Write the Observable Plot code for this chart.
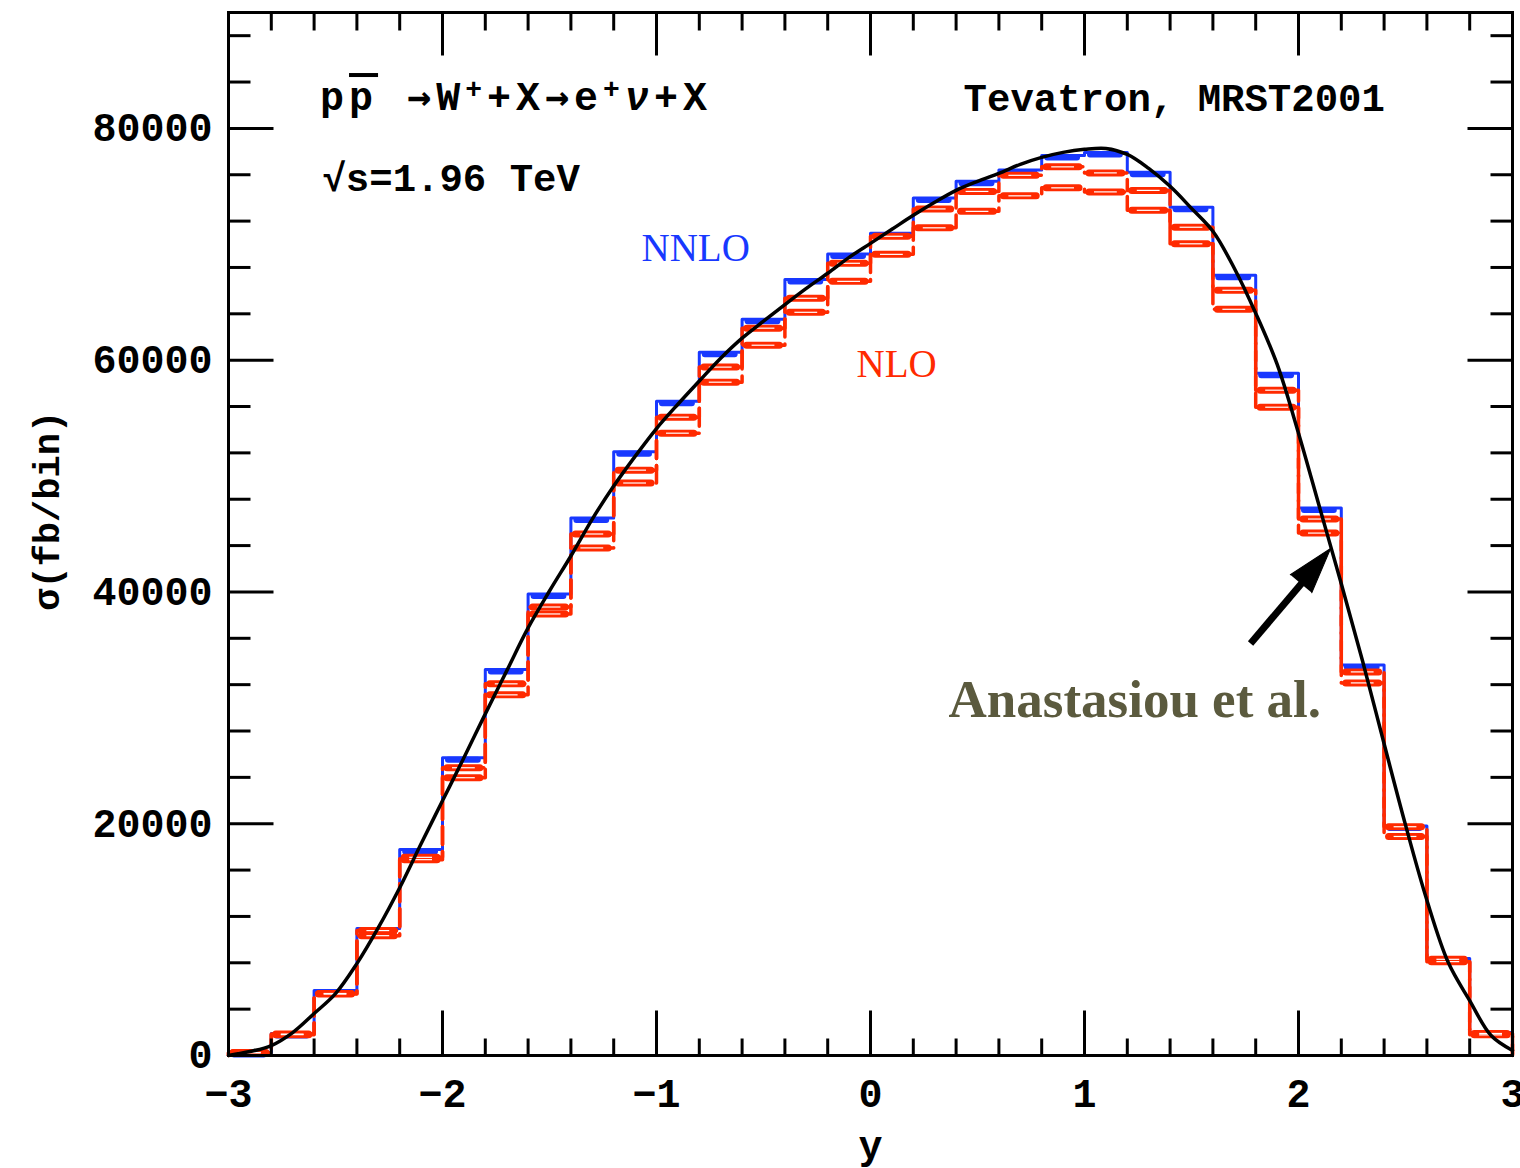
<!DOCTYPE html>
<html><head><meta charset="utf-8">
<script src="https://cdn.jsdelivr.net/npm/d3@7"></script>
<script src="https://cdn.jsdelivr.net/npm/@observablehq/plot@0.6"></script>
<style>body{margin:0;background:#fff} #chart svg{display:block;background:#fff}</style>
</head><body><div id="chart"></div>
<script>
// ---- data ----
const binLo = [-3.0,-2.8,-2.6,-2.4,-2.2,-2.0,-1.8,-1.6,-1.4,-1.2,-1.0,-0.8,-0.6,-0.4,-0.2,0.0,0.2,0.4,0.6,0.8,1.0,1.2,1.4,1.6,1.8,2.0,2.2,2.4,2.6,2.8];
const nnlo    = [250,1900,5600,10950,17780,25700,33300,39820,46380,52100,56460,60690,63530,66950,69170,70950,74000,75430,76420,77670,77930,76210,73190,67320,58880,47240,33700,19800,8360,1980];
const nloHigh = [260,1850,5350,10780,17100,24830,32070,38700,45000,50510,55080,59400,62760,65340,68360,70690,73050,74560,75950,76680,76160,74650,71470,66030,57410,46290,33100,19740,8300,1900];
const nloLow  = [230,1800,5300,10340,16900,23970,31120,38100,43800,49400,53700,58100,61290,64130,66800,69130,71420,72840,74180,74870,74520,72930,70040,64390,55940,45080,32150,18900,8100,1780];
const curveX = [-3.0,-2.9,-2.8,-2.7,-2.6,-2.5,-2.4,-2.3,-2.2,-2.1,-2.0,-1.9,-1.8,-1.7,-1.6,-1.5,-1.4,-1.3,-1.2,-1.1,-1.0,-0.9,-0.8,-0.7,-0.6,-0.5,-0.4,-0.3,-0.2,-0.1,0.0,0.1,0.2,0.3,0.4,0.5,0.6,0.7,0.8,0.9,1.0,1.1,1.2,1.3,1.4,1.5,1.6,1.7,1.8,1.9,2.0,2.1,2.2,2.3,2.4,2.5,2.6,2.7,2.8,2.9,3.0];
const curveV = [0,340,860,1980,3620,5340,7930,11030,14480,18270,21980,25690,29480,33190,36900,40080,43100,46290,49140,51700,54100,56200,58200,60170,61900,63360,64800,66200,67500,68870,70080,71290,72500,73620,74650,75430,76120,76900,77500,77930,78190,78270,77760,76550,75000,73100,71120,67930,64050,59650,53700,47200,40700,34000,26900,19900,13400,8020,4740,1720,430];
const xTickLabels = [-3,-2,-1,0,1,2,3];
const xMinorTicks = [-2.8,-2.6,-2.4,-2.2,-1.8,-1.6,-1.4,-1.2,-0.8,-0.6,-0.4,-0.2,0.2,0.4,0.6,0.8,1.2,1.4,1.6,1.8,2.2,2.4,2.6,2.8];
const yTickLabels = [0,20000,40000,60000,80000];
const yMinorTicks = [4000,8000,12000,16000,24000,28000,32000,36000,44000,48000,52000,56000,64000,68000,72000,76000,84000,88000];

// ---- styling ----
const BLUE = "#1838ff", RED = "#ff2a00", OLIVE = "#5b5a3e";
const mono = "Liberation Mono, DejaVu Sans Mono, monospace";
const serif = "Liberation Serif, DejaVu Serif, serif";

const bins = binLo.map((x0, i) => ({x0, x1: +(x0 + 0.2).toFixed(1), nnlo: nnlo[i], hi: nloHigh[i], lo: nloLow[i]}));
const steps = key => [{x: -3, v: 0}, ...bins.map(b => ({x: b.x0, v: b[key]})), {x: 3, v: bins[bins.length - 1][key]}, {x: 3, v: 0}];
const curve = curveX.map((x, i) => ({x, v: curveV[i]}));
const lineShape = {draw(ctx, l) { ctx.moveTo(0, 0); ctx.lineTo(0, -l); }};
const ticks = (vals, opts) => Plot.vector(vals, {anchor: "start", shape: lineShape, stroke: "black", strokeWidth: 3, strokeLinecap: "butt", ...opts});
const fmtX = d => (d < 0 ? "\u2212" : "") + Math.abs(d);

const chart = Plot.plot({
  width: 1520, height: 1168,
  marginLeft: 228, marginRight: 8, marginTop: 12, marginBottom: 113,
  x: {domain: [-3, 3], axis: null},
  y: {domain: [0, 90000], axis: null},
  marks: [
    // NNLO (blue)
    Plot.line(steps("nnlo"), {x: "x", y: "v", curve: "step-after", stroke: BLUE, strokeWidth: 3}),
    Plot.ruleY(bins, {y: "nnlo", x1: "x0", x2: "x1", stroke: BLUE, strokeWidth: 6, insetLeft: 6, insetRight: 7, dy: 2, strokeLinecap: "round"}),
    // NLO (red, dashed)
    Plot.line(steps("hi"), {x: "x", y: "v", curve: "step-after", stroke: RED, strokeWidth: 3.5, strokeDasharray: "18,7"}),
    Plot.line(steps("lo"), {x: "x", y: "v", curve: "step-after", stroke: RED, strokeWidth: 3.5, strokeDasharray: "18,7"}),
    Plot.ruleY(bins, {y: "hi", x1: "x0", x2: "x1", stroke: RED, strokeWidth: 7, insetLeft: 5, insetRight: 5, strokeLinecap: "round"}),
    Plot.ruleY(bins, {y: "lo", x1: "x0", x2: "x1", stroke: RED, strokeWidth: 7, insetLeft: 5, insetRight: 5, strokeLinecap: "round"}),
    Plot.ruleY(bins, {y: "hi", x1: "x0", x2: "x1", stroke: "white", strokeWidth: 1.2, insetLeft: 10, insetRight: 10}),
    Plot.ruleY(bins, {y: "lo", x1: "x0", x2: "x1", stroke: "white", strokeWidth: 1.2, insetLeft: 10, insetRight: 10}),
    // Anastasiou et al. curve
    Plot.line(curve, {x: "x", y: "v", curve: "catmull-rom", stroke: "black", strokeWidth: 3.5}),
    // arrow
    Plot.link([0], {x1: 1.776, y1: 35550, x2: 2.03, y2: 41080, stroke: "black", strokeWidth: 7}),
    Plot.vector([0], {x: 2.15, y: 43750, length: 46, rotate: 40, anchor: "end", shape: "spike", r: 14, fill: "black", stroke: "black", strokeWidth: 1}),
    // frame and ticks
    Plot.frame({stroke: "black", strokeWidth: 3}),
    ticks(xTickLabels, {x: d => d, y: 0, length: 45, rotate: 0}),
    ticks(xMinorTicks, {x: d => d, y: 0, length: 17, rotate: 0}),
    ticks(xTickLabels, {x: d => d, y: 90000, length: 43, rotate: 180}),
    ticks(xMinorTicks, {x: d => d, y: 90000, length: 18, rotate: 180}),
    ticks(yTickLabels, {x: -3, y: d => d, length: 45, rotate: 90}),
    ticks(yMinorTicks, {x: -3, y: d => d, length: 22, rotate: 90}),
    ticks(yTickLabels, {x: 3, y: d => d, length: 45, rotate: -90}),
    ticks(yMinorTicks, {x: 3, y: d => d, length: 22, rotate: -90}),
    // tick labels
    Plot.text(xTickLabels, {x: d => d, y: 0, text: fmtX, dy: 39, lineAnchor: "middle", fontFamily: mono, fontWeight: "bold", fontSize: 40, fill: "black"}),
    Plot.text(yTickLabels, {x: -3, y: d => d, text: d => String(d), dx: -16, textAnchor: "end", lineAnchor: "middle", fontFamily: mono, fontWeight: "bold", fontSize: 40, fill: "black"}),
    // axis titles
    Plot.text(["y"], {x: 0, y: 0, text: d => d, dy: 103, lineAnchor: "bottom", fontFamily: mono, fontWeight: "bold", fontSize: 40, fill: "black"}),
    Plot.text(["\u03c3(fb/bin)"], {x: -3, y: 47000, text: d => d, dx: -170, rotate: -90, lineAnchor: "bottom", textAnchor: "middle", fontFamily: mono, fontWeight: "bold", fontSize: 37, fill: "black"}),
    // annotations
    Plot.text(["Tevatron, MRST2001"], {x: 0.435, y: 81540, text: d => d, textAnchor: "start", lineAnchor: "bottom", fontFamily: mono, fontWeight: "bold", fontSize: 39, fill: "black"}),
    Plot.text(["\u221As=1.96 TeV"], {x: -2.561, y: 74640, text: d => d, textAnchor: "start", lineAnchor: "bottom", fontFamily: mono, fontWeight: "bold", fontSize: 39, fill: "black"}),
    Plot.text(["NNLO"], {x: -1.07, y: 68600, text: d => d, textAnchor: "start", lineAnchor: "bottom", fontFamily: serif, fontSize: 39, fill: BLUE}),
    Plot.text(["NLO"], {x: -0.065, y: 58590, text: d => d, textAnchor: "start", lineAnchor: "bottom", fontFamily: serif, fontSize: 39, fill: RED}),
    Plot.text(["Anastasiou et al."], {x: 0.3645, y: 29166, text: d => d, textAnchor: "start", lineAnchor: "bottom", fontFamily: serif, fontWeight: "bold", fontSize: 53, fill: OLIVE})
  ]
});

// reaction formula with superscripts and overbar
const svg = d3.select(chart);
const sx = chart.scale("x"), sy = chart.scale("y");
const arrowFont = "DejaVu Sans Mono, monospace";
const t = svg.append("text")
  .attr("x", sx.apply(-2.57)).attr("y", sy.apply(81540))
  .attr("text-anchor", "start")
  .attr("font-family", mono).attr("font-weight", "bold").attr("font-size", 40).attr("letter-spacing", 5).attr("fill", "black");
t.append("tspan").text("p");
t.append("tspan").style("text-decoration", "overline").text("p");
t.append("tspan").text(" ");
t.append("tspan").attr("font-family", arrowFont).text("\u2192");
t.append("tspan").text("W");
t.append("tspan").attr("font-size", 28).attr("dy", -12).text("+");
t.append("tspan").attr("dy", 12).text("+X");
t.append("tspan").attr("font-family", arrowFont).text("\u2192");
t.append("tspan").text("e");
t.append("tspan").attr("font-size", 28).attr("dy", -12).text("+");
t.append("tspan").attr("dy", 12).attr("font-style", "italic").text("\u03bd");
t.append("tspan").text("+X");

document.getElementById("chart").append(chart);
</script>
</body></html>
